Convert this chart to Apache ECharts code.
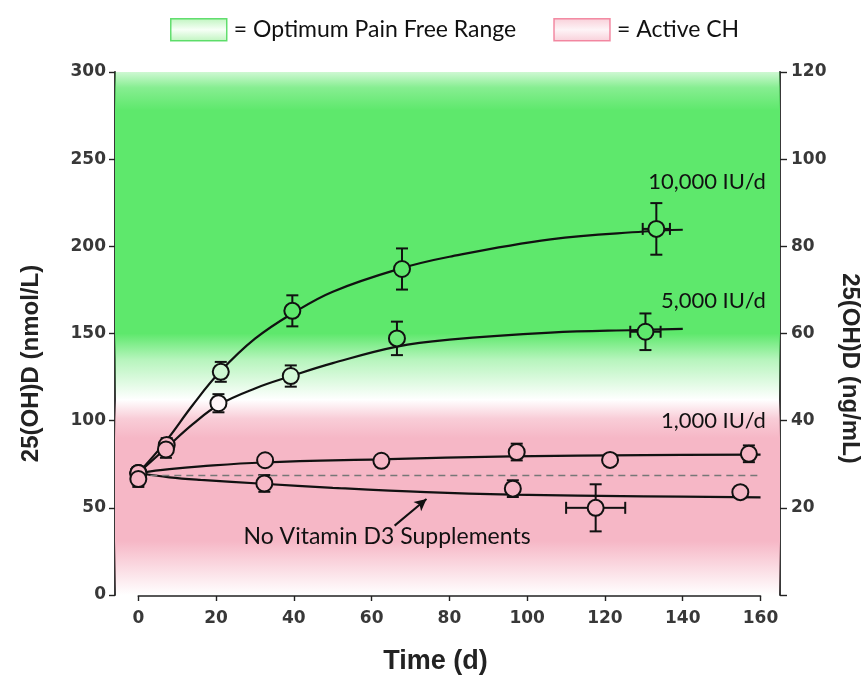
<!DOCTYPE html>
<html>
<head>
<meta charset="utf-8">
<script src="https://cdn.jsdelivr.net/npm/echarts/dist/echarts.min.js"></script>
<style>html,body{margin:0;padding:0;background:#fff}#c{width:865px;height:685px}</style>
</head>
<body>
<div id="c"></div>
<script>
// ---------- data ----------
// rows: [day, 25(OH)D nmol/L, y error, x error]
const dose10000 = [[0,70,0,0],[7.3,86,4,0],[21.2,128,5.7,0],[39.6,163,8.9,0],[67.8,187,11.8,0],[133.2,210,14.8,3.5]];
const dose5000  = [[0,70,0,0],[7.1,83.5,4.8,0],[20.6,110,5.2,0],[39.2,125.6,6.1,0],[66.5,147.2,9.6,0],[130.4,151,10.5,3.9]];
const dose1000  = [[0,70,0,0],[32.6,77.3,0,0],[62.5,77,0,0],[97.3,82,4.8,0],[121.3,77.5,0,0],[157,81,4.8,0]];
const noVitD    = [[0,66.5,4.5,0],[32.4,64,4.8,0],[96.3,61,4.8,0],[117.6,50,13.5,7.6],[154.8,59,0,0]];
// fitted curves as drawn in the picture: [day, nmol/L]
const curve10000 = [[0,70],[7,88],[14,109],[21,128],[30,147],[40,162],[50,174],[67,187],[80,194],[106,204],[130,208.5],[140,209.5]];
const curve5000  = [[0,70],[7,84],[14,98],[20.6,109],[30,118.5],[39.2,125.5],[50,133],[66.5,142.5],[80,146.5],[106,150.5],[128,152],[140,152.6]];
const curve1000  = [[0,70],[8,72.2],[16,73.8],[32,76],[62,77.8],[96,79.5],[130,80.2],[160,80.5]];
const curveNoVitD= [[0,70],[8,67.5],[16,66],[32,63.8],[50,61.5],[74,59],[96,57.6],[130,56.6],[160,56]];
const baselineLevel = 68.6;
const doseLabels = ['10,000 IU/d', '5,000 IU/d', '1,000 IU/d'];
const noSuppLabel = 'No Vitamin D3 Supplements';
const legendNames = ['= Optimum Pain Free Range', '= Active CH'];
// background bands (nmol/L): [value, opacity]
const greenBand = [[300,0.3],[291,0.75],[278,1],[150,1],[135,0.45],[112,0]];
const pinkBand  = [[112,0],[101,0.7],[90,1],[31,1],[11,0.35],[0,0]];
const arrowFrom = [65.9, 39.8], arrowTo = [74.1, 55.1];

// ---------- styling helpers ----------
const GREEN = [94,232,108], PINK = [246,183,198];
function rgba(c,a){return 'rgba('+c[0]+','+c[1]+','+c[2]+','+a+')';}
function bandGradient(stops, col){
  const top = stops[0][0], bot = stops[stops.length-1][0];
  return new echarts.graphic.LinearGradient(0,0,0,1,
    stops.map(s => ({offset:(top - s[0])/(top - bot), color:rgba(col,s[1])})));
}
function alphaAt(stops, v){
  if (v > stops[0][0] || v < stops[stops.length-1][0]) return 0;
  for (let i=0;i<stops.length-1;i++){
    const a=stops[i], b=stops[i+1];
    if (v<=a[0] && v>=b[0]) { const f=(a[0]-v)/(a[0]-b[0]); return a[1]+(b[1]-a[1])*f; }
  }
  return 0;
}
function bgColor(v){
  let a = alphaAt(greenBand, v), c = GREEN;
  const ap = alphaAt(pinkBand, v);
  if (ap > a) { a = ap; c = PINK; }
  const mix = i => Math.round(255*(1-a) + c[i]*a);
  return 'rgb('+mix(0)+','+mix(1)+','+mix(2)+')';
}
function errRender(params, api){
  const t = api.value(0), v = api.value(1), ye = api.value(2), xe = api.value(3);
  const c = api.coord([t, v]);
  const r = 8, cap = 6;
  const st = {stroke:'#111', lineWidth:2};
  const ch = [];
  const L = (x1,y1,x2,y2) => ch.push({type:'line', shape:{x1,y1,x2,y2}, style:st});
  if (ye > 0){
    const top = api.coord([t, v+ye])[1], bot = api.coord([t, v-ye])[1];
    if (c[1]-r > top) L(c[0],top,c[0],c[1]-r);
    if (bot > c[1]+r) L(c[0],c[1]+r,c[0],bot);
    L(c[0]-cap,top,c[0]+cap,top);
    L(c[0]-cap,bot,c[0]+cap,bot);
  }
  if (xe > 0){
    const l = api.coord([t-xe, v])[0], rr = api.coord([t+xe, v])[0];
    if (c[0]-r > l) L(l,c[1],c[0]-r,c[1]);
    if (rr > c[0]+r) L(c[0]+r,c[1],rr,c[1]);
    L(l,c[1]-cap,l,c[1]+cap);
    L(rr,c[1]-cap,rr,c[1]+cap);
  }
  return {type:'group', children:ch};
}

const TICK_FONT = {fontFamily:'DejaVu Sans', fontWeight:'bold', fontSize:17, color:'#383838'};
const NAME_FONT = {fontFamily:'Liberation Sans', fontWeight:'bold', fontSize:24, color:'#222'};
const LABEL_FONT = {fontFamily:'Lato', fontSize:22, color:'#111', opacity:1};

const groups = [dose10000, dose5000, dose1000, noVitD];
const curves = [curve10000, curve5000, curve1000, curveNoVitD];

const series = [];
series.push({
  name: legendNames[0], type:'scatter', data:[], xAxisIndex:0, yAxisIndex:0, z:1, silent:true,
  markArea:{silent:true, itemStyle:{color:bandGradient(greenBand, GREEN)},
    data:[[{yAxis:greenBand[0][0]},{yAxis:greenBand[greenBand.length-1][0]}]]}
});
series.push({
  name: legendNames[1], type:'scatter', data:[], xAxisIndex:0, yAxisIndex:0, z:1, silent:true,
  markArea:{silent:true, itemStyle:{color:bandGradient(pinkBand, PINK)},
    data:[[{yAxis:pinkBand[0][0]},{yAxis:pinkBand[pinkBand.length-1][0]}]]},
  markLine:{silent:true, symbol:['none','none'], label:{show:false},
    lineStyle:{color:'#777', type:[7,5], width:1.3},
    data:[[{coord:[0, baselineLevel]},{coord:[160, baselineLevel]}]]}
});
curves.forEach((cv,i) => series.push({
  type:'line', data:cv, smooth:0.4, showSymbol:false, xAxisIndex:0, yAxisIndex:0, z:3,
  lineStyle:{color:'#111', width:2.2}, silent:true
}));
groups.forEach(g => series.push({
  type:'custom', data:g, renderItem:errRender, xAxisIndex:0, yAxisIndex:0, z:4, silent:true,
  encode:{x:0, y:1}
}));
groups.forEach(g => series.push({
  type:'scatter', data:g.map(r => [r[0], r[1]]), symbol:'circle', symbolSize:16,
  xAxisIndex:0, yAxisIndex:0, z:5, silent:true,
  itemStyle:{color: p => bgColor(p.value[1]), borderColor:'#111', borderWidth:2, opacity:1}
}));
// text labels
series.push({
  type:'scatter', symbolSize:1, itemStyle:{color:'rgba(0,0,0,0)', opacity:1}, xAxisIndex:0, yAxisIndex:0, z:6, silent:true,
  data:[
    {name:doseLabels[0], value:[161.5, 237]},
    {name:doseLabels[1], value:[161.5, 168.8]},
    {name:doseLabels[2], value:[161.5, 100]}
  ],
  label:{show:true, position:'left', distance:0, formatter:p => p.name, ...LABEL_FONT}
});
series.push({
  type:'scatter', symbolSize:1, itemStyle:{color:'rgba(0,0,0,0)', opacity:1}, xAxisIndex:0, yAxisIndex:0, z:6, silent:true,
  data:[{name:noSuppLabel, value:[26.9, 33.3]}],
  label:{show:true, position:'right', distance:0, formatter:p => p.name, ...LABEL_FONT, fontSize:23},
  markLine:{silent:true, symbol:['none','arrow'], symbolSize:[9,12], label:{show:false},
    lineStyle:{color:'#111', width:2, type:'solid'},
    data:[[{coord:arrowFrom},{coord:arrowTo}]]}
});

const option = {
  animation:false,
  backgroundColor:'#fff',
  legend:{
    top:13, left:165, itemWidth:56, itemGap:37, itemHeight:22, icon:'rect',
    textStyle:{fontFamily:'Lato', fontSize:23, color:'#111', padding:[0,0,0,2]},
    selectedMode:false,
    data:[
      {name:legendNames[0], icon:'rect', itemStyle:{
        color:new echarts.graphic.LinearGradient(0,0,0,1,[{offset:0,color:'#aef2ae'},{offset:0.5,color:'#f4fff4'},{offset:1,color:'#aef2ae'}]),
        borderColor:'#3fd64f', borderWidth:1.5}},
      {name:legendNames[1], icon:'rect', itemStyle:{
        color:new echarts.graphic.LinearGradient(0,0,0,1,[{offset:0,color:'#f7c3cf'},{offset:0.5,color:'#fdf1f4'},{offset:1,color:'#f7c3cf'}]),
        borderColor:'#f0708e', borderWidth:1.5}}
    ]
  },
  grid:[
    {left:115, right:85, top:72, bottom:90, outerBoundsMode:'none', containLabel:false},
    {left:138.3, right:104.5, top:560, bottom:89, outerBoundsMode:'none', containLabel:false}
  ],
  xAxis:[
    {gridIndex:0, type:'value', min:-6, max:165, show:false},
    {gridIndex:1, type:'value', min:0, max:160, interval:20, position:'bottom',
     axisLine:{show:true, onZero:false, lineStyle:{color:'#222', width:1.6}},
     axisTick:{show:true, inside:false, length:5, lineStyle:{color:'#222', width:1.4}},
     axisLabel:{margin:14, ...TICK_FONT},
     splitLine:{show:false},
     name:'Time (d)', nameLocation:'middle', nameGap:52,
     nameTextStyle:{...NAME_FONT, fontSize:27, padding:[0,28,0,0]}}
  ],
  yAxis:[
    {gridIndex:0, type:'value', min:0, max:300, interval:50, position:'left',
     axisLine:{show:true, onZero:false, lineStyle:{color:'#222', width:1.8}},
     axisTick:{show:true, inside:false, length:6, lineStyle:{color:'#222', width:1.4}},
     axisLabel:{margin:9, ...TICK_FONT},
     splitLine:{show:false},
     name:'25(OH)D (nmol/L)', nameLocation:'middle', nameGap:72, nameRotate:90,
     nameTextStyle:{...NAME_FONT, padding:[0,60,0,0]}},
    {gridIndex:0, type:'value', min:0, max:120, interval:20, position:'right',
     axisLine:{show:true, onZero:false, lineStyle:{color:'#222', width:1.8}},
     axisTick:{show:true, inside:false, length:7, lineStyle:{color:'#222', width:1.4}},
     axisLabel:{margin:11, ...TICK_FONT, formatter:v => v === 0 ? '' : String(v)},
     splitLine:{show:false},
     name:'25(OH)D (ng/mL)', nameLocation:'middle', nameGap:56, nameRotate:-90,
     nameTextStyle:{...NAME_FONT, padding:[0,0,0,70]}},
    {gridIndex:1, type:'value', min:0, max:1, show:false}
  ],
  series: series
};
const chart = echarts.init(document.getElementById('c'), null, {renderer:'canvas'});
chart.setOption(option);
</script>
</body>
</html>
